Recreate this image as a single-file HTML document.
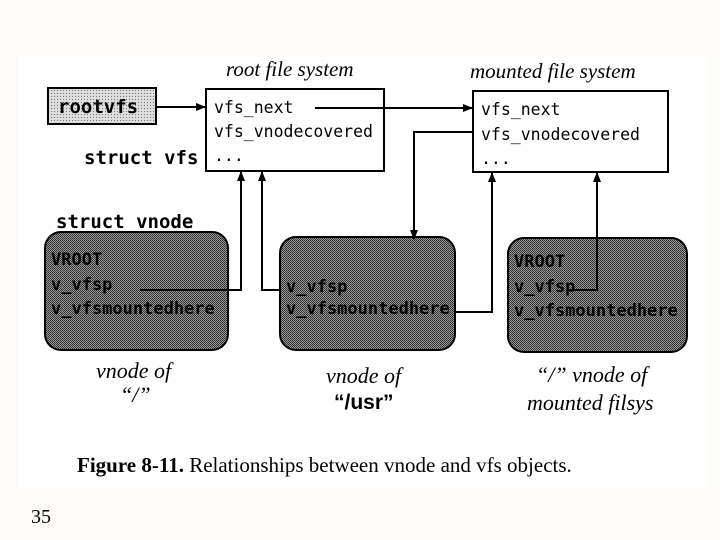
<!DOCTYPE html>
<html><head><meta charset="utf-8"><style>
html,body{margin:0;padding:0;background:#fdfcf8;}
svg{display:block}
.m{font-family:"DejaVu Sans Mono","Liberation Mono",monospace;font-size:16.5px;}
.mb{font-family:"DejaVu Sans Mono","Liberation Mono",monospace;font-weight:bold;}
.it{font-family:"Liberation Serif",serif;font-style:italic;}
</style></head><body>
<svg width="720" height="540" viewBox="0 0 720 540" xmlns="http://www.w3.org/2000/svg">
<defs>
<marker id="a" markerWidth="10" markerHeight="10" refX="9" refY="5" orient="auto" markerUnits="userSpaceOnUse"><path d="M0,1 L10,5 L0,9 z" fill="#000"/></marker>
<pattern id="d" width="3" height="3" patternUnits="userSpaceOnUse"><rect width="3" height="3" fill="#ddd"/><rect width="1" height="1" fill="#777"/></pattern>
<pattern id="g" width="2" height="2" patternUnits="userSpaceOnUse"><rect width="2" height="2" fill="#999"/><rect width="1" height="1" fill="#2a2a2a"/><rect x="1" y="1" width="1" height="1" fill="#3a3a3a"/></pattern>
</defs>
<rect x="18" y="57" width="690" height="432" fill="#fff"/>
<text x="226" y="76" class="it" style="font-size:21px">root file system</text>
<text x="470" y="78" class="it" style="font-size:21px">mounted file system</text>
<rect x="48" y="88" width="108" height="36" fill="url(#d)" stroke="#000" stroke-width="2"/>
<text x="58" y="113" class="mb" style="font-size:19px">rootvfs</text>
<rect x="206" y="89" width="178" height="82" fill="#fff" stroke="#000" stroke-width="2"/>
<text x="214" y="113" class="m">vfs_next</text>
<text x="214" y="137" class="m">vfs_vnodecovered</text>
<text x="214" y="161" class="m">...</text>
<text x="84" y="164" class="mb" style="font-size:19px">struct vfs</text>
<rect x="473" y="91" width="195" height="81" fill="#fff" stroke="#000" stroke-width="2"/>
<text x="481" y="115" class="m">vfs_next</text>
<text x="481" y="140" class="m">vfs_vnodecovered</text>
<text x="481" y="164" class="m">...</text>
<text x="56" y="228" class="mb" style="font-size:19px">struct vnode</text>
<rect x="45" y="232" width="183" height="118" rx="16" fill="url(#g)" stroke="#000" stroke-width="2"/>
<rect x="280" y="237" width="175" height="113" rx="16" fill="url(#g)" stroke="#000" stroke-width="2"/>
<rect x="508" y="238" width="179" height="114" rx="16" fill="url(#g)" stroke="#000" stroke-width="2"/>
<g class="mb" style="font-size:17px" fill="#000">
<text x="51" y="265">VROOT</text><text x="51" y="290">v_vfsp</text><text x="51" y="314">v_vfsmountedhere</text>
<text x="286" y="292">v_vfsp</text><text x="286" y="314">v_vfsmountedhere</text>
<text x="514" y="267">VROOT</text><text x="514" y="292">v_vfsp</text><text x="514" y="316">v_vfsmountedhere</text>
</g>
<g stroke="#000" stroke-width="2" fill="none">
<line x1="157" y1="107" x2="205" y2="107" marker-end="url(#a)"/>
<line x1="315" y1="108" x2="472" y2="108" marker-end="url(#a)"/>
<polyline points="473,132 414,132 414,239" marker-end="url(#a)"/>
<polyline points="140,290 241,290 241,172" marker-end="url(#a)"/>
<polyline points="280,290 262,290 262,172" marker-end="url(#a)"/>
<polyline points="455,312 492,312 492,173" marker-end="url(#a)"/>
<polyline points="570,290 597,290 597,173" marker-end="url(#a)"/>
</g>
<text x="96" y="378" class="it" style="font-size:22px">vnode of</text>
<text x="120" y="402" class="it" style="font-size:22px">“/”</text>
<text x="326" y="383" class="it" style="font-size:22px">vnode of</text>
<text x="334" y="409" font-family="Liberation Sans Narrow,Liberation Sans,sans-serif" font-weight="bold" font-size="21">“/usr”</text>
<text x="536" y="382" class="it" style="font-size:22px">“/” vnode of</text>
<text x="527" y="410" class="it" style="font-size:22px">mounted filsys</text>
<text x="77" y="472" font-family="Liberation Serif,serif" font-size="21"><tspan font-weight="bold">Figure 8-11.</tspan> Relationships between vnode and vfs objects.</text>
<text x="31" y="523" font-family="Liberation Serif,serif" font-size="20">35</text>
</svg>
</body></html>
